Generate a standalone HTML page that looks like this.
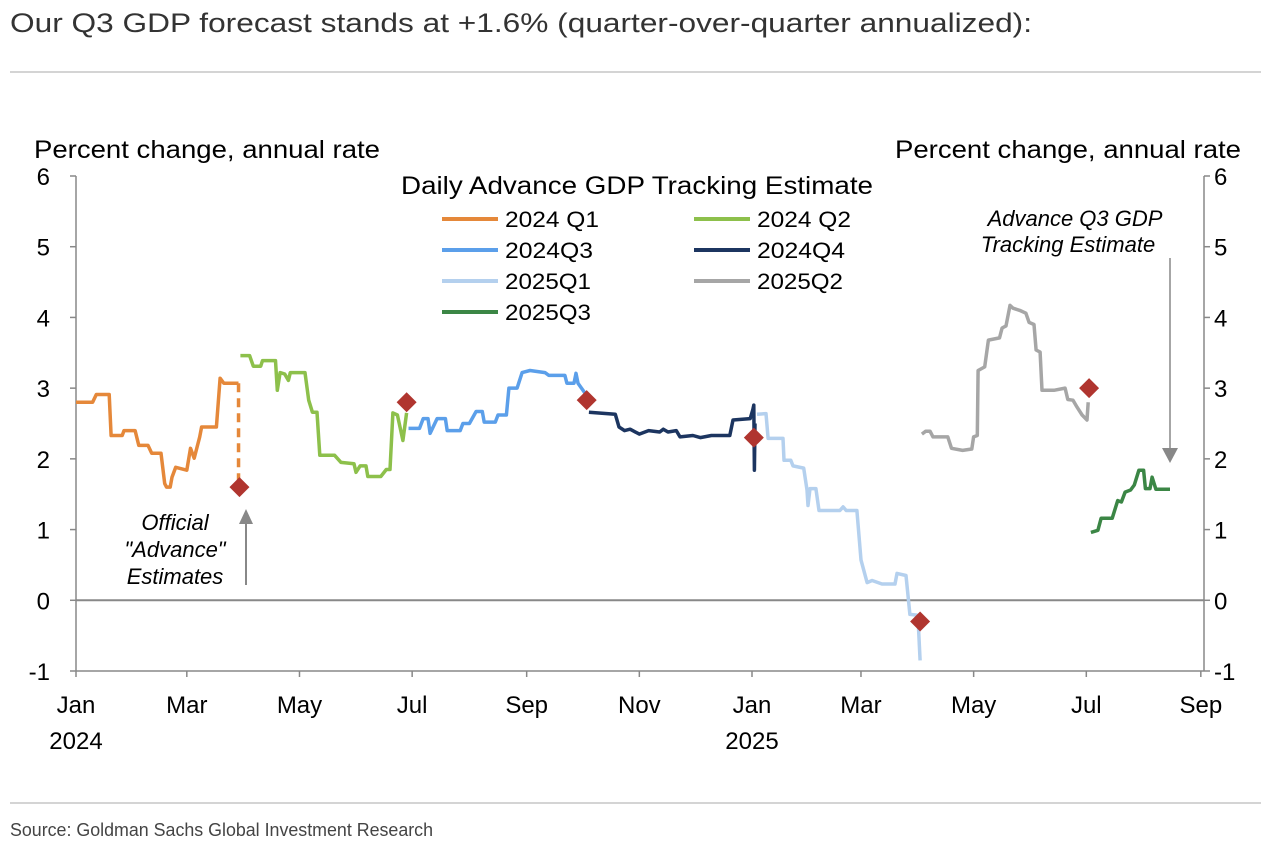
<!DOCTYPE html>
<html><head><meta charset="utf-8"><style>
body{margin:0;background:#fff;width:1271px;height:854px;overflow:hidden;font-family:"Liberation Sans",sans-serif}
</style></head><body>
<svg id="chart" width="1271" height="854" xmlns="http://www.w3.org/2000/svg" font-family="Liberation Sans, sans-serif">
<text x="10" y="32" font-size="27" fill="#333" textLength="1022" lengthAdjust="spacingAndGlyphs">Our Q3 GDP forecast stands at +1.6% (quarter-over-quarter annualized):</text>
<line x1="10" y1="72" x2="1261" y2="72" stroke="#aaa" stroke-width="1"/>
<line x1="10" y1="803" x2="1261" y2="803" stroke="#aaa" stroke-width="1"/>
<text x="10" y="836" font-size="18" fill="#444" textLength="423" lengthAdjust="spacingAndGlyphs">Source: Goldman Sachs Global Investment Research</text>
<text x="34" y="158" font-size="25" fill="#000" textLength="346" lengthAdjust="spacingAndGlyphs">Percent change, annual rate</text>
<text x="895" y="158" font-size="25" fill="#000" textLength="346" lengthAdjust="spacingAndGlyphs">Percent change, annual rate</text>
<text x="401" y="194" font-size="25" fill="#000" textLength="472" lengthAdjust="spacingAndGlyphs">Daily Advance GDP Tracking Estimate</text>
<g id="axes"></g><g id="legend"></g><g id="series"></g><g id="markers"></g>
<g font-size="22" font-style="italic" text-anchor="middle" fill="#000">
<text x="175" y="530">Official</text><text x="175" y="557">"Advance"</text><text x="175" y="584">Estimates</text></g>
<line x1="246" y1="585" x2="246" y2="522" stroke="#888" stroke-width="2"/>
<polygon points="239,524 253,524 246,509" fill="#888"/>
<g font-size="22" font-style="italic" text-anchor="middle" fill="#000">
<text x="1075" y="226">Advance Q3 GDP</text><text x="1068" y="252">Tracking Estimate</text></g>
<line x1="1170" y1="258" x2="1170" y2="450" stroke="#888" stroke-width="1.5"/>
<polygon points="1162,448 1178,448 1170,463" fill="#888"/>
</svg>
<script>
const yTicks=[-1,0,1,2,3,4,5,6];
const xTickDays=[0,60,121,182,244,305,366,425,486,547,609];
const xTickLabels=["Jan","Mar","May","Jul","Sep","Nov","Jan","Mar","May","Jul","Sep"];
const q124=[[0,2.80],[9,2.80],[11,2.91],[18,2.91],[19,2.33],[25,2.33],[26,2.40],[32,2.40],[34,2.19],[39,2.19],[41,2.08],[46,2.08],[48,1.65],[49,1.60],[51,1.60],[52,1.74],[54,1.88],[60,1.84],[62,2.15],[64,2.01],[67,2.31],[68,2.45],[76,2.45],[78,3.14],[80,3.07],[88,3.07]];
const q224=[[89,3.46],[94,3.46],[96,3.31],[100,3.31],[101,3.39],[108,3.39],[109,2.97],[110.5,3.22],[113,3.2],[115,3.11],[116,3.22],[124,3.22],[126,2.83],[128,2.66],[130.5,2.66],[132,2.05],[140,2.05],[143.5,1.95],[150.5,1.93],[151.6,1.81],[153.8,1.9],[157,1.9],[158,1.75],[165,1.75],[168,1.85],[170,1.85],[171.6,2.65],[174,2.62],[177,2.26],[179,2.65]];
const q324=[[180,2.43],[186,2.43],[188,2.57],[190.6,2.57],[191.7,2.36],[195.5,2.57],[200,2.57],[201,2.40],[208,2.40],[209.5,2.5],[213,2.5],[216.6,2.67],[220,2.67],[221,2.52],[227,2.52],[228.5,2.62],[233,2.62],[234.4,3.0],[238.8,3.0],[241.5,3.22],[245.8,3.25],[254,3.22],[256,3.18],[264.7,3.18],[265.8,3.07],[269.6,3.07],[270.7,3.21],[271.8,3.07],[275.6,2.93],[277,2.85]];
const q424=[[277.7,2.66],[292,2.63],[294,2.45],[297,2.40],[300,2.42],[305,2.35],[310,2.4],[316,2.38],[318,2.42],[320.5,2.38],[325,2.4],[327,2.31],[334,2.33],[338,2.3],[344,2.33],[354,2.33],[355.7,2.55],[365,2.57],[366.5,2.70],[367,2.76],[367.3,1.84],[367.6,2.5]];
const q125=[[368.7,2.63],[373.6,2.64],[374.7,2.29],[382.8,2.29],[383.3,1.98],[387,1.98],[388.2,1.9],[394,1.87],[395.8,1.56],[396.3,1.34],[397.4,1.58],[400.6,1.58],[402.3,1.27],[413.6,1.27],[415.3,1.32],[417,1.27],[422.8,1.27],[425,0.57],[428.3,0.25],[431,0.28],[436.4,0.23],[443.4,0.23],[444.5,0.38],[449.4,0.35],[451.5,-0.2],[455.3,-0.21],[456,-0.3],[457,-0.85]];
const q225=[[458,2.35],[460,2.39],[462.4,2.39],[464,2.31],[472,2.31],[474,2.15],[480,2.12],[485,2.14],[486,2.31],[488,2.33],[488.4,3.25],[492,3.30],[494,3.68],[500,3.71],[501.4,3.85],[503.5,3.88],[505.7,4.17],[507.3,4.13],[511,4.10],[514.3,4.06],[516,3.93],[518.7,3.90],[519.8,3.54],[522,3.51],[523,2.97],[529.5,2.97],[535.5,3.0],[537,2.84],[539.8,2.83],[542,2.73],[544.7,2.62],[547.4,2.55],[548,2.80]];
const q325=[[549.5,0.96],[553.3,0.99],[555,1.16],[561,1.16],[564,1.41],[566,1.39],[568,1.53],[571,1.56],[573,1.63],[575.5,1.84],[578,1.84],[579,1.58],[581.5,1.58],[582.6,1.74],[584.7,1.57],[592.3,1.57]];
const advDays=[88.5,179,276.5,367,457,548.5];
const advVals=[1.6,2.8,2.83,2.3,-0.3,3.0];
const seriesNames=["2024 Q1","2024 Q2","2024Q3","2024Q4","2025Q1","2025Q2","2025Q3"];
const seriesColors=["#E5883A","#8DC04B","#5B9FEA","#1C3560","#B4D0EE","#A6A6A6","#3B8645"];
const seriesData=[q124,q224,q324,q424,q125,q225,q325];

const NS="http://www.w3.org/2000/svg";
const X0=76,X1=1204,Y6=176,Ym1=671;
const xs=d=>X0+d*1.847;
const ys=v=>Y6+(6-v)*(Ym1-Y6)/7;
function mk(tag,attrs,parent){const e=document.createElementNS(NS,tag);for(const k in attrs)e.setAttribute(k,attrs[k]);parent.appendChild(e);return e;}
const axes=document.getElementById('axes');
let e;
e=mk('line',{x1:X0,y1:Y6,x2:X0,y2:Ym1,stroke:'#888','stroke-width':1.5},axes);


e=mk('line',{x1:X1,y1:Y6,x2:X1,y2:Ym1,stroke:'#888','stroke-width':1.5},axes);


e=mk('line',{x1:X0,y1:Ym1,x2:X1,y2:Ym1,stroke:'#888','stroke-width':1.5},axes);


e=mk('line',{x1:X0,y1:ys(0),x2:X1,y2:ys(0),stroke:'#888','stroke-width':2},axes);


yTicks.forEach(t=>{
  mk('line',{x1:X0-6,y1:ys(t),x2:X0,y2:ys(t),stroke:'#888','stroke-width':1.5},axes);
  mk('line',{x1:X1,y1:ys(t),x2:X1+6,y2:ys(t),stroke:'#888','stroke-width':1.5},axes);
  e=mk('text',{x:50,y:ys(t)+9,'font-size':24,'text-anchor':'end'},axes);e.textContent=t;
  
  
  e=mk('text',{x:1214,y:ys(t)+9,'font-size':24},axes);e.textContent=t;
  
  
});
xTickDays.forEach((d,i)=>{
  mk('line',{x1:xs(d),y1:Ym1,x2:xs(d),y2:Ym1+6,stroke:'#888','stroke-width':1.5},axes);
  e=mk('text',{x:xs(d),y:713,'font-size':24,'text-anchor':'middle'},axes);e.textContent=xTickLabels[i];
  
  
});
e=mk('text',{x:xs(0),y:749,'font-size':24,'text-anchor':'middle'},axes);e.textContent='2024';


e=mk('text',{x:xs(366),y:749,'font-size':24,'text-anchor':'middle'},axes);e.textContent='2025';



const sg=document.getElementById('series');
seriesData.forEach((s,i)=>{
  const p=mk('polyline',{points:s.map(q=>xs(q[0]).toFixed(1)+','+ys(q[1]).toFixed(1)).join(' '),fill:'none',stroke:seriesColors[i],'stroke-width':3.5,'stroke-linejoin':'round'},sg);
  
  
});
const last=q124[q124.length-1];
e=mk('line',{x1:xs(last[0]),y1:ys(last[1]),x2:xs(last[0]),y2:ys(advVals[0]),stroke:seriesColors[0],'stroke-width':3.5,'stroke-dasharray':'9,6'},sg);


const mg=document.getElementById('markers');
advDays.forEach((d,i)=>{
  const cx=xs(d),cy=ys(advVals[i]);
  const m=mk('polygon',{points:`${cx},${cy-10} ${cx+10},${cy} ${cx},${cy+10} ${cx-10},${cy}`,fill:'#B0352F'},mg);
  
  
});
const lg=document.getElementById('legend');
const lpos=[[442,219],[694,219],[442,250],[694,250],[442,281],[694,281],[442,312]];
const lwid=[94,94,88,88,86,86,86];
seriesNames.forEach((n,i)=>{
  const [lx,ly]=lpos[i];
  const g=mk('g',{},lg);
  
  
  mk('line',{x1:lx,y1:ly,x2:lx+56,y2:ly,stroke:seriesColors[i],'stroke-width':4},g);
  const t=mk('text',{x:lx+63,y:ly+8,'font-size':22,textLength:lwid[i],lengthAdjust:'spacingAndGlyphs'},g);t.textContent=n;
});
</script>
</body></html>
